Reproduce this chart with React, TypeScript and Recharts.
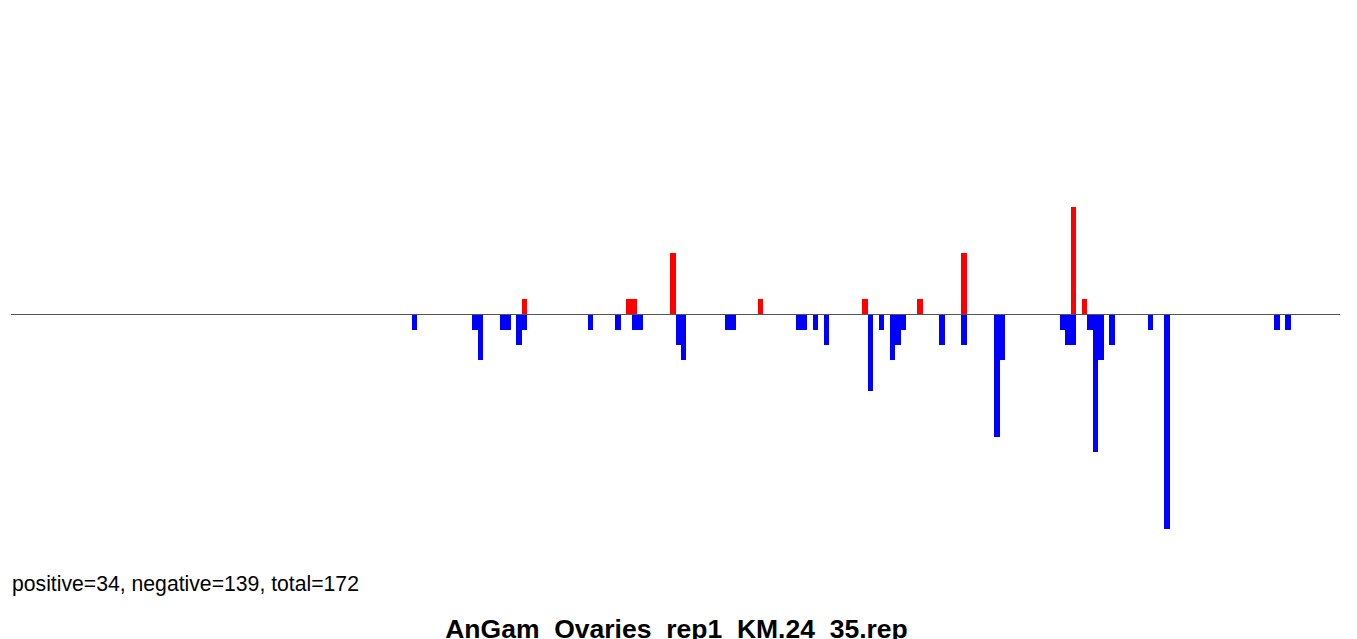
import { Bar, BarChart, ReferenceLine, XAxis, YAxis } from 'recharts'

// slot positions along the track (0..241) and the counts drawn there
const SLOT_COUNT = 242
const posSlots = [93, 112, 113, 120, 136, 155, 165, 173, 193, 195]
const posVals = [1, 1, 1, 4, 1, 1, 1, 4, 7, 1]
const negSlots = [
  73, 84, 85, 89, 90, 92, 93, 105, 110, 113, 114, 121, 122, 130, 131, 143, 144, 146, 148, 156,
  158, 160, 161, 162, 169, 173, 179, 180, 191, 192, 193, 196, 197, 198, 200, 207, 210, 230, 232,
]
const negVals = [
  -1, -1, -3, -1, -1, -2, -1, -1, -1, -1, -1, -2, -3, -1, -1, -1, -1, -1, -2, -5,
  -1, -3, -2, -1, -2, -2, -8, -3, -1, -2, -2, -1, -9, -3, -2, -1, -14, -1, -1,
]
const summary = 'positive=34, negative=139, total=172'
const title = 'AnGam_Ovaries_rep1_KM.24_35.rep'

const rows = Array.from({ length: SLOT_COUNT }, (_, i) => ({ slot: i, pos: 0, neg: 0 }))
posSlots.forEach((s, k) => (rows[s].pos = posVals[k]))
negSlots.forEach((s, k) => (rows[s].neg = negVals[k]))

const W = 1357
const H = 639
const margin = { top: 8.5, right: 17, left: 11, bottom: 79.7 }
const slotWidth = (W - margin.left - margin.right) / SLOT_COUNT

// recharts truncates the bar width, so draw each bar across its whole slot with snapped edges
function SlotBar(p: any) {
  if (!p.height) return null
  const x0 = Math.round(p.x)
  const x1 = Math.round(p.x + slotWidth)
  const ya = Math.round(p.y)
  const yb = Math.round(p.y + p.height)
  return <rect x={x0} y={Math.min(ya, yb)} width={x1 - x0} height={Math.abs(yb - ya)} fill={p.fill} />
}

function ZeroLine(p: any) {
  return (
    <line x1={p.x1} x2={p.x2} y1={Math.floor(p.y1) + 0.5} y2={Math.floor(p.y2) + 0.5} stroke="#555" strokeWidth={1} />
  )
}

export default function App() {
  return (
    <div style={{ position: 'absolute', left: 0, top: 0, width: W, height: H, background: '#fff', overflow: 'hidden' }}>
      <BarChart
        width={W}
        height={H}
        data={rows}
        margin={margin}
        barCategoryGap={0}
        barGap={0}
        stackOffset="sign"
      >
        <XAxis dataKey="slot" hide />
        <YAxis hide domain={[-16, 20]} />
        <Bar dataKey="pos" stackId="a" fill="#ff0000" shape={SlotBar} isAnimationActive={false} />
        <Bar dataKey="neg" stackId="a" fill="#0000ff" shape={SlotBar} isAnimationActive={false} />
        <ReferenceLine y={0} shape={ZeroLine} />
      </BarChart>
      <svg width={W} height={H} style={{ position: 'absolute', left: 0, top: 0 }}>
        <text x={12} y={591} fontFamily="Liberation Sans, Arial, sans-serif" fontSize={21.2} fill="#000">
          {summary}
        </text>
        <text
          x={676.5}
          y={638}
          textAnchor="middle"
          fontFamily="Liberation Sans, Arial, sans-serif"
          fontSize={26.5}
          fontWeight="bold"
          fill="#000"
        >
          {title}
        </text>
      </svg>
    </div>
  )
}
